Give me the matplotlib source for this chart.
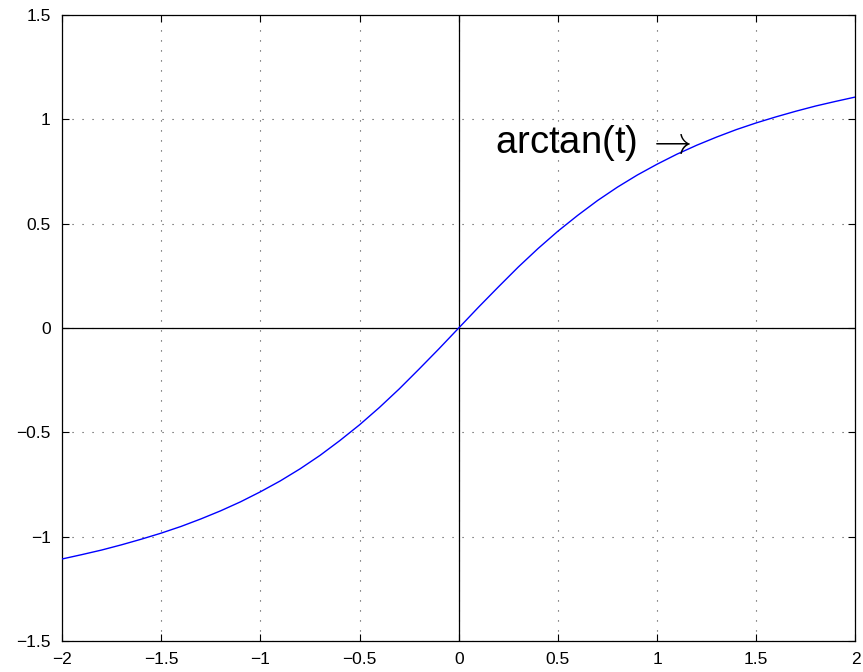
import matplotlib
matplotlib.use('Agg')
import matplotlib.pyplot as plt
import numpy as np

# values
t = [-2.0, -1.9, -1.8, -1.7, -1.6, -1.5, -1.4, -1.3, -1.2, -1.1, -1.0,
     -0.9, -0.8, -0.7, -0.6, -0.5, -0.4, -0.3, -0.2, -0.1, 0.0,
     0.1, 0.2, 0.3, 0.4, 0.5, 0.6, 0.7, 0.8, 0.9, 1.0,
     1.1, 1.2, 1.3, 1.4, 1.5, 1.6, 1.7, 1.8, 1.9, 2.0]
y = [-1.107, -1.086, -1.064, -1.039, -1.012, -0.983, -0.951, -0.915, -0.876, -0.833, -0.785,
     -0.733, -0.675, -0.611, -0.540, -0.464, -0.381, -0.292, -0.197, -0.100, 0.0,
     0.100, 0.197, 0.292, 0.381, 0.464, 0.540, 0.611, 0.675, 0.733, 0.785,
     0.833, 0.876, 0.915, 0.951, 0.983, 1.012, 1.039, 1.064, 1.086, 1.107]

xticks = [-2, -1.5, -1, -0.5, 0, 0.5, 1, 1.5, 2]
xticklabels = ['\u22122', '\u22121.5', '\u22121', '\u22120.5', '0', '0.5', '1', '1.5', '2']
yticks = [-1.5, -1, -0.5, 0, 0.5, 1, 1.5]
yticklabels = ['\u22121.5', '\u22121', '\u22120.5', '0', '0.5', '1', '1.5']

label = r'arctan(t)$\;\rightarrow$'
label_pos = (1.172, 0.839)

plt.rcParams['font.family'] = ['Liberation Sans', 'DejaVu Sans']
plt.rcParams['mathtext.fontset'] = 'cm'

fig = plt.figure(figsize=(8.63, 6.72), dpi=100)
ax = fig.add_axes([0.0718, 0.0461, 0.9195, 0.9316])

ax.plot(t, y, color=(0, 0, 1), lw=1.0, zorder=3)
ax.axhline(0, color='black', lw=0.9, zorder=2)
ax.axvline(0, color='black', lw=0.9, zorder=2)

ax.set_xlim(-2, 2)
ax.set_ylim(-1.5, 1.5)
ax.set_xticks(xticks)
ax.set_xticklabels(xticklabels)
ax.set_yticks(yticks)
ax.set_yticklabels(yticklabels)
ax.grid(True, linestyle=(0, (1, 8)), color='#444444', lw=0.8)
ax.tick_params(direction='in', length=5, width=0.8, labelsize=12.5,
               top=True, right=True, pad=8)
for s in ax.spines.values():
    s.set_linewidth(0.9)

ax.text(label_pos[0], label_pos[1], label, fontsize=27.5, ha='right', va='baseline')

fig.savefig('out.png', dpi=100)
